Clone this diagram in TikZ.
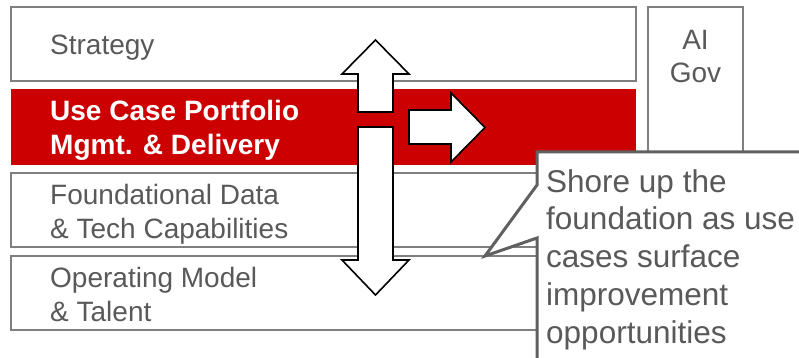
\documentclass[tikz,border=0pt]{standalone}
\usepackage{fontspec}
\setmainfont{Liberation Sans}
\definecolor{txtgray}{HTML}{595959}
\definecolor{boxgray}{HTML}{7F7F7F}
\definecolor{callgray}{HTML}{606060}
\definecolor{dred}{HTML}{CC0000}
\begin{document}
\begin{tikzpicture}[x=1pt,y=-1pt,
  layerbox/.style={draw=boxgray, line width=2pt, fill=white},
  layertext/.style={anchor=base west, inner sep=0pt, align=left, text=txtgray,
    font=\fontsize{28}{34}\selectfont},
  blockarrow/.style={draw=black, line width=1.6pt, fill=white, line join=miter},
  calloutshape/.style={draw=callgray, line width=3pt, fill=white, line join=miter},
  callouttext/.style={anchor=base west, inner sep=0pt, align=left, text=txtgray,
    font=\fontsize{31.5}{37.75}\selectfont}]
\useasboundingbox (0,0) rectangle (799,358);
\clip (0,0) rectangle (799,358);
\fill[white] (0,0) rectangle (799,358);
% layer boxes
\draw[layerbox] (11,7) rectangle (636,81);
\fill[dred] (11,89) rectangle (636,165);
\draw[layerbox] (11,173) rectangle (636,247);
\draw[layerbox] (11,256) rectangle (636,330);
\draw[layerbox] (648,7) rectangle (743,220);
% texts (anchor = baseline of the last line)
\node[layertext] (strategy) at (50,55) {Strategy};
\node[layertext, text=white, font=\bfseries\fontsize{28}{34}\selectfont] (usecase) at (50,154) {Use Case Portfolio\\Mgmt. \& Delivery};
\node[layertext] (found) at (50,238) {Foundational Data\\\& Tech Capabilities};
\node[layertext] (opmodel) at (50,321) {Operating Model\\\& Talent};
\node[layertext, anchor=base, align=center, font=\fontsize{28}{33}\selectfont] (aigov) at (695.5,83) {AI\\Gov};
% block arrows
\draw[blockarrow] (358,112) -- (358,74) -- (342,74) -- (375.5,40) -- (409,74) -- (393,74) -- (393,112) -- cycle;
\draw[blockarrow] (358,127) -- (393,127) -- (393,260) -- (409,260) -- (375.5,295) -- (342,260) -- (358,260) -- cycle;
\draw[blockarrow] (409,110) -- (451,110) -- (451,93) -- (485,127.5) -- (451,162) -- (451,144) -- (409,144) -- cycle;
% callout
\draw[calloutshape] (537,152) -- (820,152) -- (820,380) -- (537,380) -- (537,238) -- (485,256) -- (537,185) -- cycle;
\node[callouttext] (callout) at (546,343) {Shore up the\\foundation as use\\cases surface\\improvement\\opportunities};
\end{tikzpicture}
\end{document}
